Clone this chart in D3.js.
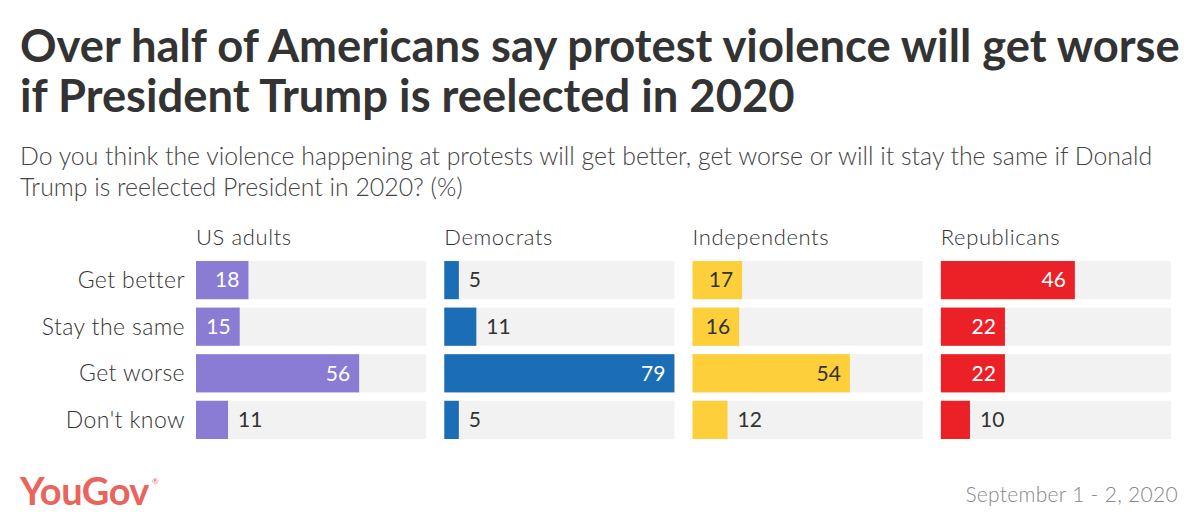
<!DOCTYPE html>
<html>
<head>
<meta charset="utf-8">
<script src="https://cdn.jsdelivr.net/npm/d3@7"></script>
<style>
  body { margin: 0; background: #fff; }
  text { font-family: Lato, "Open Sans", sans-serif; }
  .light { font-weight: 300; }
</style>
</head>
<body>
<div id="chart"></div>
<script>
// data
const groups = ["US adults", "Democrats", "Independents", "Republicans"];
const answers = ["Get better", "Stay the same", "Get worse", "Don't know"];
const usAdults = [18, 15, 56, 11];
const democrats = [5, 11, 79, 5];
const independents = [17, 16, 54, 12];
const republicans = [46, 22, 22, 10];
const groupColors = ["#8a7bd4", "#1b6db5", "#fdcf3a", "#ec2027"];
const labelColors = ["#fff", "#fff", "#333", "#fff"];

const W = 1200, H = 532;
const series = [usAdults, democrats, independents, republicans];

const svg = d3.select("#chart").append("svg")
  .attr("width", W).attr("height", H);

// fit a text to a target width
function fitText(sel, targetW) {
  const node = sel.node();
  const fs = parseFloat(sel.attr("font-size"));
  const w = node.getComputedTextLength();
  sel.attr("font-size", fs * targetW / w);
}

// title
const titleLines = ["Over half of Americans say protest violence will get worse",
  "if President Trump is reelected in 2020"];
const t1 = svg.append("text").text(titleLines[0])
  .attr("x", 20).attr("y", 62).attr("font-size", 40)
  .attr("font-weight", "bold").attr("fill", "#333");
fitText(t1, 1160);
svg.append("text").text(titleLines[1])
  .attr("x", 20).attr("y", 112).attr("font-size", t1.attr("font-size"))
  .attr("font-weight", "bold").attr("fill", "#333");

// subtitle
const sub1 = svg.append("text").attr("class", "light")
  .text("Do you think the violence happening at protests will get better, get worse or will it stay the same if Donald")
  .attr("x", 20).attr("y", 165).attr("font-size", 22).attr("fill", "#444");
fitText(sub1, 1133);
svg.append("text").attr("class", "light").text("Trump is reelected President in 2020? (%)")
  .attr("x", 20).attr("y", 196).attr("font-size", sub1.attr("font-size")).attr("fill", "#444");

// layout
const panelX = d3.scaleBand().domain(groups).range([196, 1171]).paddingInner(0.073).paddingOuter(0);
const rowY = d3.scaleBand().domain(answers).range([261, 439]).paddingInner(0.18).paddingOuter(0);
const x = d3.scaleLinear().domain([0, 79]).range([0, panelX.bandwidth()]);

// category labels
svg.append("g").selectAll("text").data(answers).join("text")
  .attr("class", "light")
  .attr("x", 185)
  .attr("y", d => rowY(d) + rowY.bandwidth() / 2)
  .attr("dy", "0.35em")
  .attr("text-anchor", "end")
  .attr("font-size", 23)
  .attr("letter-spacing", 0.4)
  .attr("fill", "#333")
  .text(d => d);

groups.forEach((grp, gi) => {
  const g = svg.append("g").attr("transform", `translate(${panelX(grp)},0)`);
  g.append("text").text(grp).attr("class", "light")
    .attr("x", 0).attr("y", 245)
    .attr("font-size", 22).attr("letter-spacing", 0.6).attr("fill", "#333");

  const rows = g.selectAll("g.row").data(answers.map((a, i) => ({ a, v: series[gi][i] })))
    .join("g").attr("class", "row");

  rows.append("rect")
    .attr("x", 0).attr("y", d => rowY(d.a))
    .attr("width", panelX.bandwidth()).attr("height", rowY.bandwidth())
    .attr("fill", "#f2f2f2");

  rows.append("rect")
    .attr("x", 0).attr("y", d => rowY(d.a))
    .attr("width", d => x(d.v)).attr("height", rowY.bandwidth())
    .attr("fill", groupColors[gi]);

  rows.append("text")
    .attr("x", d => d.v >= 15 ? x(d.v) - 9 : x(d.v) + 10)
    .attr("y", d => rowY(d.a) + rowY.bandwidth() / 2)
    .attr("dy", "0.35em")
    .attr("text-anchor", d => d.v >= 15 ? "end" : "start")
    .attr("font-size", 21)
    .attr("fill", d => d.v >= 15 ? labelColors[gi] : "#333")
    .text(d => d.v);
});

// footer
svg.append("text").text("YouGov")
  .attr("x", 20).attr("y", 505)
  .attr("font-size", 38).attr("font-weight", "bold")
  .attr("letter-spacing", -0.5)
  .attr("fill", "#e9645c");
svg.append("text").text("®")
  .attr("x", 152).attr("y", 484)
  .attr("font-size", 8).attr("fill", "#e9645c");
svg.append("text").text("September 1 - 2, 2020").attr("class", "light")
  .attr("x", 1178).attr("y", 502)
  .attr("text-anchor", "end")
  .attr("font-size", 21).attr("letter-spacing", 0.3).attr("fill", "#888");
</script>
</body>
</html>
